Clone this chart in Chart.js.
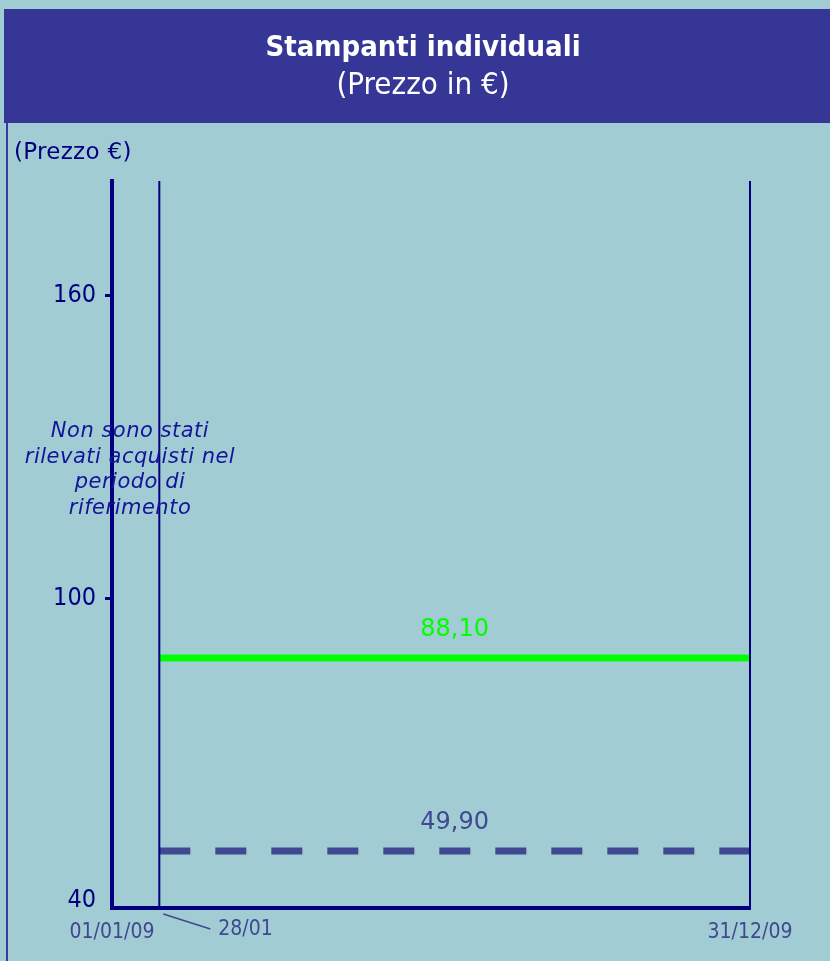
<!DOCTYPE html>
<html>
<script src="https://cdn.jsdelivr.net/npm/chart.js@4/dist/chart.umd.min.js"></script>
<body style="margin:0;background:#a2ccd3">

<canvas id="myChart" width="830" height="961"></canvas>

<script>
// days counted from 01/01/09
var dayLabels = ['01/01/09', '28/01', '31/12/09'];
var dayValues = [0, 27, 364];
var seriesNames = ['Prezzo massimo', 'Prezzo minimo'];
var seriesValues = [88.10, 49.90];
var seriesColors = ['#00ff00', '#3f4890'];
var yTicks = [40, 100, 160];
var yMin = 38.6, yMax = 182.6;
var noteLines = ['Non sono stati', 'rilevati acquisti nel', 'periodo di', 'riferimento'];

var FONT = "'DejaVu Sans Condensed', 'DejaVu Sans', sans-serif";
var FONT_W = "'DejaVu Sans', sans-serif";
var NAVY = '#00007f';

function fmt(v) { return v.toFixed(2).replace('.', ','); }

var start = dayValues[1], end = dayValues[2];

var datasets = [];
// vertical limits of the period
[start, end].forEach(function (d) {
  datasets.push({
    data: [{x: d, y: yMin}, {x: d, y: yMax}],
    borderColor: NAVY, borderWidth: 2, pointRadius: 0, clip: false
  });
});
datasets.push({
  label: seriesNames[0],
  data: [{x: start, y: seriesValues[0]}, {x: end, y: seriesValues[0]}],
  borderColor: seriesColors[0], borderWidth: 7, pointRadius: 0, order: 1, clip: false
});
datasets.push({
  label: seriesNames[1],
  data: [{x: start, y: seriesValues[1]}, {x: end, y: seriesValues[1]}],
  borderColor: seriesColors[1], borderWidth: 7, borderDash: [31, 25], pointRadius: 0, order: 1
});

var decor = {
  id: 'decor',
  beforeDraw: function (chart) {
    var c = chart.ctx;
    c.save();
    c.fillStyle = '#a2ccd3';
    c.fillRect(0, 0, chart.width, chart.height);
    c.fillStyle = '#363696';
    c.fillRect(4, 9, chart.width - 4, 114);
    c.strokeStyle = '#3a3a9c';
    c.lineWidth = 2;
    c.beginPath(); c.moveTo(7, 123); c.lineTo(7, chart.height); c.stroke();
    c.restore();
  },
  afterDraw: function (chart) {
    var c = chart.ctx, x = chart.scales.x, y = chart.scales.y;
    c.save();
    c.textBaseline = 'middle';
    // axis unit
    c.fillStyle = NAVY;
    c.textAlign = 'left';
    c.font = '23px ' + FONT_W;
    c.letterSpacing = '0.3px';
    c.fillText('(Prezzo \u20ac)', 14, 153);
    // note
    c.fillStyle = '#14149a';
    c.textAlign = 'center';
    c.font = 'italic 21px ' + FONT_W;
    c.letterSpacing = '0.5px';
    noteLines.forEach(function (t, i) { c.fillText(t, 130, 432 + i * 25.5); });
    c.letterSpacing = '0px';
    // values above lines
    var mid = (x.getPixelForValue(start) + x.getPixelForValue(end)) / 2;
    c.font = '24px ' + FONT_W;
    seriesValues.forEach(function (v, i) {
      c.fillStyle = seriesColors[i];
      c.fillText(fmt(v), mid, y.getPixelForValue(v) - 28);
    });
    // 28/01 label with leader
    var px = x.getPixelForValue(start);
    c.strokeStyle = '#3f4890';
    c.lineWidth = 1.5;
    c.beginPath(); c.moveTo(px + 4, 914); c.lineTo(px + 51, 929); c.stroke();
    c.fillStyle = '#3f4890';
    c.textAlign = 'left';
    c.font = '21px ' + FONT;
    c.fillText(dayLabels[1], px + 59, 930);
    c.restore();
  }
};

new Chart('myChart', {
  type: 'line',
  data: { datasets: datasets },
  plugins: [decor],
  options: {
    responsive: false,
    animation: false,
    layout: { padding: { left: 16, right: 0, top: 0, bottom: 0 } },
    plugins: {
      legend: { display: false },
      tooltip: { enabled: false },
      title: {
        display: true, text: 'Stampanti individuali', color: '#ffffff',
        font: { family: FONT, size: 29, weight: 'bold', lineHeight: 1.2 },
        padding: { top: 31, bottom: 0 }
      },
      subtitle: {
        display: true, text: '(Prezzo in \u20ac)', color: '#ffffff',
        font: { family: FONT, size: 31, weight: 'normal', lineHeight: 1.2 },
        padding: { top: 2, bottom: 76 }
      }
    },
    scales: {
      x: {
        type: 'linear', min: dayValues[0], max: dayValues[2],
        afterFit: function (s) { s.height = 53; },
        afterBuildTicks: function (s) {
          s.ticks = [{value: dayValues[0]}, {value: dayValues[2]}];
        },
        ticks: {
          color: '#3f4890', font: { family: FONT, size: 21 }, padding: 12, maxRotation: 0,
          callback: function (v) { return dayLabels[dayValues.indexOf(v)]; }
        },
        grid: { display: false, drawTicks: false },
        border: { display: true, color: NAVY, width: 4 }
      },
      y: {
        type: 'linear', min: yMin, max: yMax,
        afterFit: function (s) { s.width = 96; },
        afterBuildTicks: function (s) {
          s.ticks = yTicks.map(function (v) { return {value: v}; });
        },
        ticks: {
          color: NAVY, font: { family: FONT, size: 25 }, padding: 9,
          callback: function (v) { return String(v); }
        },
        grid: {
          drawOnChartArea: false, tickLength: 7, lineWidth: 3,
          color: function (ctx) { return ctx.tick && ctx.tick.value === yTicks[0] ? 'rgba(0,0,0,0)' : NAVY; }
        },
        border: { display: true, color: NAVY, width: 4 }
      },
      // empty right margin so the plot ends where the original does
      yRight: {
        position: 'right', display: true,
        afterFit: function (s) { s.width = 80; },
        ticks: { display: false },
        grid: { display: false, drawTicks: false },
        border: { display: false }
      }
    }
  }
});
</script>

</body>
</html>
